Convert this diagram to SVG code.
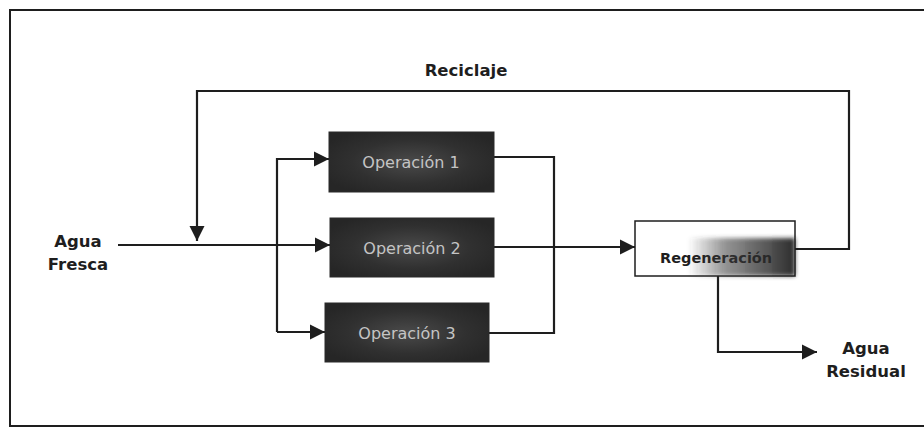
<svg xmlns="http://www.w3.org/2000/svg" width="924" height="432" viewBox="0 0 924 432">
  <style>
    .line { fill: none; stroke: #1e1e1e; stroke-width: 2.2; }
    .arrow { marker-end: url(#head); }
    .op rect { fill: url(#opFill); stroke: #2a2a2a; stroke-width: 1; }
    .op text { font-family: "DejaVu Sans", "Liberation Sans", sans-serif; font-size: 16px; fill: #c4c4c4; text-anchor: middle; }
    .label { font-family: "DejaVu Sans", "Liberation Sans", sans-serif; font-size: 16.5px; font-weight: bold; fill: #1e1e1e; text-anchor: middle; }
  </style>
  <defs>
    <marker id="head" viewBox="0 0 10 10" refX="10" refY="5" markerWidth="7" markerHeight="7" orient="auto" markerUnits="strokeWidth">
      <path d="M0,0 L10,5 L0,10 Z" fill="#1e1e1e"/>
    </marker>
    <radialGradient id="opFill" cx="0.5" cy="0.5" r="0.6">
      <stop offset="0" stop-color="#4a4a4a"/>
      <stop offset="0.6" stop-color="#303030"/>
      <stop offset="1" stop-color="#262626"/>
    </radialGradient>
    <linearGradient id="smudge" x1="0" y1="0" x2="1" y2="0">
      <stop offset="0" stop-color="#3a3a3a" stop-opacity="0"/>
      <stop offset="0.35" stop-color="#3a3a3a" stop-opacity="0.55"/>
      <stop offset="1" stop-color="#202020" stop-opacity="0.95"/>
    </linearGradient>
    <filter id="soft" x="-10%" y="-20%" width="120%" height="140%">
      <feGaussianBlur stdDeviation="2"/>
    </filter>
  </defs>

  <rect width="924" height="432" fill="#ffffff"/>

  <!-- outer frame -->
  <rect x="10" y="10" width="924" height="416" fill="none" stroke="#1e1e1e" stroke-width="2"/>

  <!-- connectors -->
  <g id="connectors">
    <!-- recycle loop from regeneration back to the inlet -->
    <path class="line arrow" d="M795,249 H849 V91 H197 V241"/>
    <!-- fresh water inlet to operation 2 -->
    <path class="line arrow" d="M118,245 H330"/>
    <!-- splitter to operations 1 and 3 -->
    <path class="line arrow" d="M277,332 V159 H329"/>
    <path class="line arrow" d="M277,332 H325"/>
    <!-- outlets of operations 1 and 3 merge -->
    <path class="line" d="M494,157 H554 V333 H489"/>
    <!-- operation 2 to regeneration -->
    <path class="line arrow" d="M494,247 H635"/>
    <!-- regeneration to waste water -->
    <path class="line arrow" d="M718,276 V352 H817"/>
  </g>

  <g id="op1" class="op">
    <rect x="329" y="132" width="165" height="60"/>
    <text x="411" y="168">Operación 1</text>
  </g>
  <g id="op2" class="op">
    <rect x="330" y="218" width="164" height="59"/>
    <text x="412" y="254">Operación 2</text>
  </g>
  <g id="op3" class="op">
    <rect x="325" y="303" width="164" height="59"/>
    <text x="407" y="339">Operación 3</text>
  </g>

  <g id="regeneracion">
    <rect x="635" y="221" width="160" height="55" fill="#ffffff" stroke="#1e1e1e" stroke-width="1.5"/>
    <text x="660" y="263" font-family="DejaVu Sans, Liberation Sans, sans-serif" font-size="14.5" font-weight="bold" fill="#1e1e1e">Regeneración</text>
    <rect x="688" y="238" width="107" height="38" fill="url(#smudge)" filter="url(#soft)"/>
  </g>

  <g id="reciclaje">
    <text class="label" x="466" y="76">Reciclaje</text>
  </g>
  <g id="agua-fresca">
    <text class="label" x="78" y="247">Agua</text>
    <text class="label" x="78" y="270">Fresca</text>
  </g>
  <g id="agua-residual">
    <text class="label" x="866" y="354">Agua</text>
    <text class="label" x="866" y="377">Residual</text>
  </g>
</svg>
